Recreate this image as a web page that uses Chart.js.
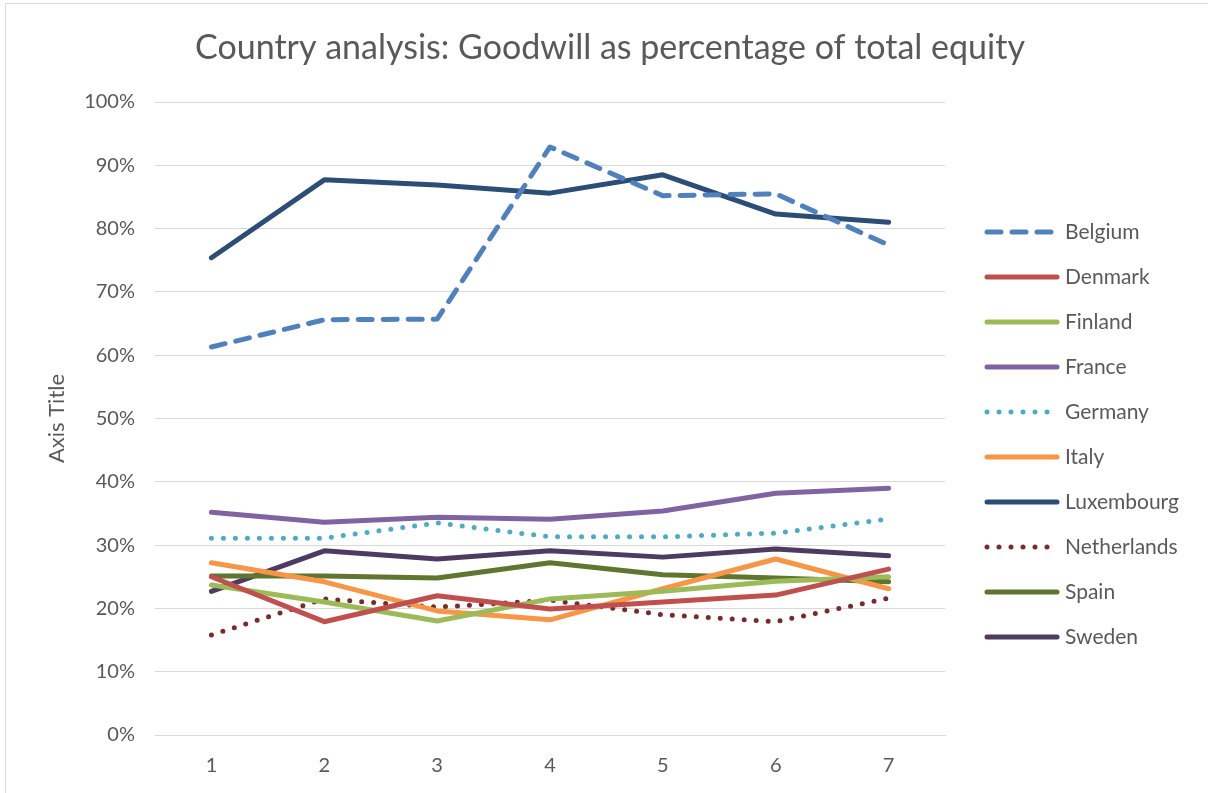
<!DOCTYPE html>
<html>
<head>
<meta charset="utf-8">
<script src="https://cdn.jsdelivr.net/npm/chart.js@4.4.1/dist/chart.umd.min.js"></script>
<style>
  html, body { margin: 0; padding: 0; background: #fff; }
  #wrap { width: 1208px; height: 793px; position: relative; }
</style>
</head>
<body>
<div id="wrap"><canvas id="chart"></canvas></div>
<script>
// данные (доли от 1)
const periods = ['1', '2', '3', '4', '5', '6', '7'];
const belgium     = [0.613, 0.656, 0.657, 0.929, 0.852, 0.855, 0.774];
const denmark     = [0.250, 0.179, 0.220, 0.199, 0.210, 0.221, 0.262];
const finland     = [0.237, 0.210, 0.180, 0.215, 0.227, 0.243, 0.250];
const france      = [0.352, 0.336, 0.344, 0.341, 0.354, 0.382, 0.390];
const germany     = [0.311, 0.311, 0.335, 0.313, 0.313, 0.319, 0.341];
const italy       = [0.272, 0.242, 0.196, 0.182, 0.231, 0.278, 0.231];
const luxembourg  = [0.754, 0.877, 0.869, 0.856, 0.885, 0.823, 0.810];
const netherlands = [0.158, 0.215, 0.202, 0.213, 0.190, 0.179, 0.216];
const spain       = [0.251, 0.251, 0.248, 0.272, 0.253, 0.248, 0.242];
const sweden      = [0.227, 0.291, 0.278, 0.291, 0.281, 0.294, 0.283];
const yTicks = [0, 0.1, 0.2, 0.3, 0.4, 0.5, 0.6, 0.7, 0.8, 0.9, 1.0];
const chartTitle = 'Country analysis: Goodwill as percentage of total equity';

const FONT = 'Lato, "Open Sans", sans-serif';
const GREY = '#595959';

function ds(label, data, color, style) {
    const d = {
        label: label,
        data: data,
        borderColor: color,
        backgroundColor: color,
        borderWidth: 5,
        pointRadius: 0,
        pointHoverRadius: 0,
        tension: 0,
        fill: false,
        borderCapStyle: 'round',
        borderJoinStyle: 'round'
    };
    if (style === 'dash') d.borderDash = [14, 11];
    if (style === 'dot') d.borderDash = [0, 12];
    return d;
}

const datasets = [
    ds('Belgium', belgium, '#4F81BD', 'dash'),
    ds('Denmark', denmark, '#C0504D'),
    ds('Finland', finland, '#9BBB59'),
    ds('France', france, '#8064A2'),
    ds('Germany', germany, '#4BACC6', 'dot'),
    ds('Italy', italy, '#F79646'),
    ds('Luxembourg', luxembourg, '#2C4D75'),
    ds('Netherlands', netherlands, '#772C2A', 'dot'),
    ds('Spain', spain, '#5F7530'),
    ds('Sweden', sweden, '#4D3B62')
];

// заголовок по центру всей картинки + своя легенда справа, как в Excel
const sideLegend = {
    id: 'sideLegend',
    afterDraw(chart) {
        const ctx = chart.ctx;
        ctx.save();
        ctx.fillStyle = GREY;
        ctx.textAlign = 'center';
        ctx.textBaseline = 'middle';
        ctx.font = '34px ' + FONT;
        ctx.fillText(chartTitle, 610, 48);

        ctx.textAlign = 'left';
        ctx.font = '21px ' + FONT;
        chart.data.datasets.forEach((d, i) => {
            const y = 232 + i * 45;
            ctx.beginPath();
            ctx.strokeStyle = d.borderColor;
            ctx.lineWidth = 5;
            ctx.lineCap = 'round';
            ctx.setLineDash(d.borderDash || []);
            ctx.moveTo(987, y);
            ctx.lineTo(1057, y);
            ctx.stroke();
            ctx.setLineDash([]);
            ctx.fillStyle = GREY;
            ctx.fillText(d.label, 1065, y);
        });
        ctx.restore();
    }
};

// рамка вокруг диаграммы
const frame = {
    id: 'frame',
    beforeDraw(chart) {
        const ctx = chart.ctx;
        ctx.save();
        ctx.fillStyle = '#fff';
        ctx.fillRect(0, 0, chart.width, chart.height);
        ctx.strokeStyle = '#d9d9d9';
        ctx.lineWidth = 1;
        ctx.strokeRect(5.5, 3.5, 1220, 800);
        ctx.restore();
    }
};

new Chart(document.getElementById('chart'), {
    type: 'line',
    data: { labels: periods, datasets: datasets },
    options: {
        responsive: true,
        maintainAspectRatio: false,
        animation: false,
        layout: { padding: { left: 44, right: 263, top: 102, bottom: 10 } },
        plugins: {
            legend: { display: false },
            tooltip: { enabled: false },
            title: { display: false }
        },
        scales: {
            x: {
                offset: true,
                grid: { display: false, drawTicks: false },
                border: { display: true, color: '#d9d9d9', width: 1 },
                ticks: { color: GREY, font: { family: FONT, size: 20 }, padding: 19 },
                afterFit(scale) { scale.height = 48; }
            },
            y: {
                min: 0,
                max: 1,
                afterBuildTicks(scale) { scale.ticks = yTicks.map(v => ({ value: v })); },
                grid: { color: '#d9d9d9', lineWidth: 1, drawTicks: false },
                border: { display: false },
                ticks: {
                    color: GREY,
                    font: { family: FONT, size: 20 },
                    padding: 20,
                    callback: v => Math.round(v * 100) + '%'
                },
                title: {
                    display: true,
                    text: 'Axis Title',
                    color: GREY,
                    font: { family: FONT, size: 22 },
                    padding: 0
                },
                afterFit(scale) { scale.width = 111; }
            }
        }
    },
    plugins: [frame, sideLegend]
});
</script>
</body>
</html>
